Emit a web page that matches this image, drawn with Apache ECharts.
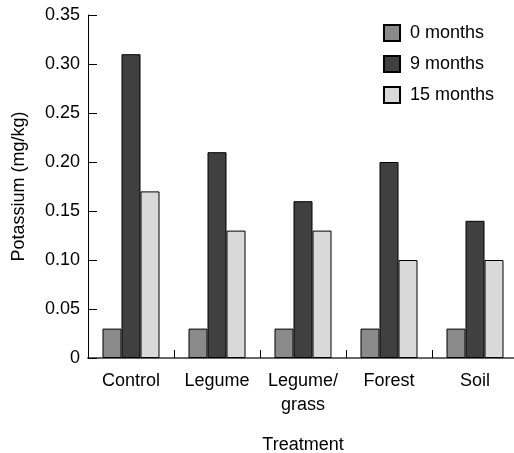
<!DOCTYPE html>
<html>
<head>
<meta charset="utf-8">
<script src="https://cdn.jsdelivr.net/npm/echarts@6/dist/echarts.min.js"></script>
<style>
  html, body { margin: 0; padding: 0; background: #fff; }
  #chart { width: 514px; height: 453px; }
</style>
</head>
<body>
<div id="chart"></div>
<script>
const categories = ['Control', 'Legume', 'Legume/\ngrass', 'Forest', 'Soil'];
const months0 = [0.03, 0.03, 0.03, 0.03, 0.03];
const months9 = [0.31, 0.21, 0.16, 0.20, 0.14];
const months15 = [0.17, 0.13, 0.13, 0.10, 0.10];

const font = 'Liberation Sans, Arial, sans-serif';
const fs = 18;
const chart = echarts.init(document.getElementById('chart'));

const bar = (name, data, color) => ({
  name,
  type: 'bar',
  data,
  barWidth: 19,
  barGap: '0%',
  itemStyle: { color, borderColor: '#000', borderWidth: 1 }
});

chart.setOption({
  animation: false,
  textStyle: { fontFamily: font },
  grid: { left: 88, top: 15, bottom: 95, width: 430, outerBoundsMode: 'none' },
  legend: {
    orient: 'vertical',
    left: 378,
    top: 19,
    itemWidth: 16,
    itemHeight: 16,
    itemGap: 13,
    icon: 'rect',
    textStyle: { fontSize: fs, color: '#000', fontFamily: font, padding: [0, 0, 0, 5] },
    data: ['0 months', '9 months', '15 months']
  },
  xAxis: {
    type: 'category',
    data: categories,
    name: 'Treatment',
    nameLocation: 'middle',
    nameGap: 78,
    nameTextStyle: { fontSize: fs, color: '#000', fontFamily: font },
    axisLine: { lineStyle: { color: '#666', width: 2 } },
    axisTick: { show: true, inside: true, length: 8, interval: 0, lineStyle: { color: '#000' } },
    axisLabel: { fontSize: fs, color: '#000', margin: 11, lineHeight: 24, interval: 0, fontFamily: font }
  },
  yAxis: {
    type: 'value',
    min: 0,
    max: 0.35,
    interval: 0.05,
    name: 'Potassium (mg/kg)',
    nameLocation: 'middle',
    nameGap: 60,
    nameTextStyle: { fontSize: fs, color: '#000', fontFamily: font },
    axisLine: { show: true, lineStyle: { color: '#000', width: 1 } },
    axisTick: { show: true, inside: true, length: 9, lineStyle: { color: '#000' } },
    splitLine: { show: false },
    axisLabel: {
      fontSize: fs,
      color: '#000',
      margin: 8,
      fontFamily: font,
      formatter: v => (v === 0 ? '0' : v.toFixed(2))
    }
  },
  series: [
    bar('0 months', months0, '#8a8a8a'),
    bar('9 months', months9, '#404040'),
    bar('15 months', months15, '#d9d9d9')
  ]
});
</script>
</body>
</html>
